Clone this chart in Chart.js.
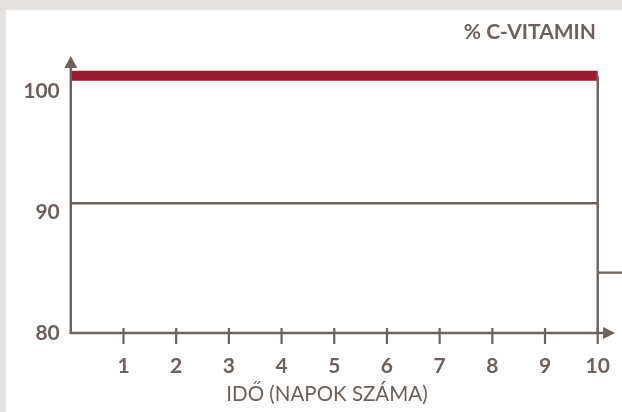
<!DOCTYPE html>
<html><head><meta charset="utf-8">
<script src="https://cdn.jsdelivr.net/npm/chart.js@4/dist/chart.umd.min.js"></script>
<style>html,body{margin:0;padding:0;background:#e4e1de;overflow:hidden}canvas{display:block}</style>
</head><body>
<canvas id="c" width="622" height="412"></canvas>
<script>
// ---- data ----
const days = [0,1,2,3,4,5,6,7,8,9,10];
const dayTickLabels = [1,2,3,4,5,6,7,8,9,10];
const yTickLabels = [80,90,100];
const vitaminC = [101.3,101.3,101.3,101.3,101.3,101.3,101.3,101.3,101.3,101.3,101.3];
const baselineLevel = [90.75,90.75,90.75,90.75,90.75,90.75,90.75,90.75,90.75,90.75,90.75];
const dropDays = [10,10];
const dropValues = [101.3,80];
const afterDays = [10,10.6];
const afterValues = [85,85];
const yTitle = '% C-VITAMIN';
const xTitle = 'IDŐ (NAPOK SZÁMA)';

const INK = '#6d615c';
const RED = '#9b1b30';
const toPts = (xs, ys) => xs.map((x,i)=>({x, y: ys[i]}));

const decor = {
  id: 'decor',
  beforeDraw(chart){
    const {ctx} = chart;
    ctx.save();
    ctx.fillStyle = '#e4e1de';
    ctx.fillRect(0,0,chart.width,chart.height);
    ctx.fillStyle = '#ffffff';
    ctx.fillRect(6,10,chart.width-6,chart.height-10);
    ctx.restore();
  },
  afterDatasetsDraw(chart){
    const {ctx, scales:{x,y}} = chart;
    const x0 = x.getPixelForValue(0), y0 = y.getPixelForValue(80);
    ctx.save();
    ctx.strokeStyle = INK; ctx.fillStyle = INK; ctx.lineWidth = 2.4;
    // y axis with arrow
    const yTip = y.getPixelForValue(102.95);
    ctx.beginPath(); ctx.moveTo(x0, y0+1); ctx.lineTo(x0, yTip+10); ctx.stroke();
    ctx.beginPath(); ctx.moveTo(x0, yTip); ctx.lineTo(x0-6.5, yTip+12); ctx.lineTo(x0+6.5, yTip+12); ctx.closePath(); ctx.fill();
    // x axis with arrow
    const xTip = x.getPixelForValue(10.33);
    ctx.beginPath(); ctx.moveTo(x0-1, y0); ctx.lineTo(xTip-10, y0); ctx.stroke();
    ctx.beginPath(); ctx.moveTo(xTip, y0); ctx.lineTo(xTip-12, y0-6); ctx.lineTo(xTip-12, y0+6); ctx.closePath(); ctx.fill();
    // tick marks
    ctx.lineWidth = 2.2;
    dayTickLabels.forEach(d=>{
      const px = x.getPixelForValue(d);
      ctx.beginPath(); ctx.moveTo(px, y0-5); ctx.lineTo(px, y0+11); ctx.stroke();
    });
    // titles
    ctx.textBaseline = 'middle';
    ctx.textAlign = 'right';
    ctx.font = 'bold 21px Lato';
    ctx.fillText(yTitle, 596, 32);
    ctx.textAlign = 'center';
    ctx.font = '20.5px Lato';
    ctx.fillText(xTitle, 327, 394);
    ctx.restore();
  }
};

new Chart(document.getElementById('c'), {
  type: 'line',
  data: {
    datasets: [
      {data: toPts(dropDays, dropValues), borderColor: INK, borderWidth: 2.4, pointRadius: 0},
      {data: toPts(afterDays, afterValues), borderColor: INK, borderWidth: 2.4, pointRadius: 0},
      {data: toPts(days, baselineLevel), borderColor: INK, borderWidth: 2.4, pointRadius: 0},
      {data: toPts(days, vitaminC), borderColor: RED, borderWidth: 10, pointRadius: 0, borderCapStyle: 'butt'}
    ]
  },
  options: {
    responsive: false,
    devicePixelRatio: 1,
    animation: false,
    layout: {padding: {top: 43.2, left: 0, right: 0, bottom: 0}},
    plugins: {legend: {display: false}, tooltip: {enabled: false}, title: {display: false}},
    scales: {
      x: {
        type: 'linear', min: 0, max: 10.461,
        afterBuildTicks: s => { s.ticks = dayTickLabels.map(v => ({value: v})); },
        afterFit: s => { s.height = 79; s.paddingLeft = 0; s.paddingRight = 0; },
        grid: {display: false, drawTicks: false},
        border: {display: false},
        ticks: {padding: 21, color: INK, maxRotation: 0, autoSkip: false, font: {family: 'Lato', size: 21, weight: 'bold'}}
      },
      y: {
        type: 'linear', min: 80, max: 104,
        afterBuildTicks: s => { s.ticks = yTickLabels.map(v => ({value: v})); },
        afterFit: s => { s.width = 70.8; s.paddingTop = 0; s.paddingBottom = 0; },
        grid: {display: false, drawTicks: false},
        border: {display: false},
        ticks: {padding: 11, color: INK, font: {family: 'Lato', size: 21, weight: 'bold'}}
      }
    }
  },
  plugins: [decor]
});
</script>
</body></html>
